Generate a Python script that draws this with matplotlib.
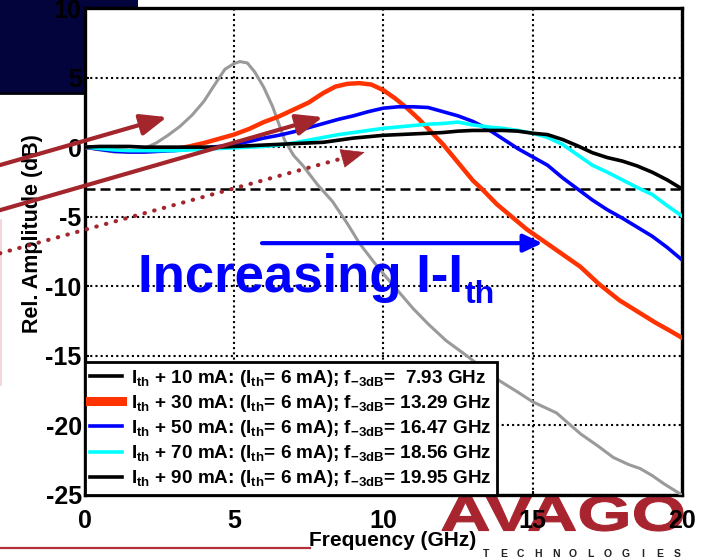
import numpy as np
import matplotlib
matplotlib.use('Agg')
import matplotlib.pyplot as plt
from matplotlib.lines import Line2D
from matplotlib.patches import Rectangle, PathPatch, ArrowStyle
from matplotlib.textpath import TextPath
from matplotlib.font_manager import FontProperties
from matplotlib.transforms import Affine2D

plt.rcParams['font.family'] = ['Liberation Sans', 'DejaVu Sans']
plt.rcParams['font.weight'] = 'bold'
plt.rcParams['mathtext.default'] = 'regular'
plt.rcParams['axes.unicode_minus'] = False

# ---------------- data ----------------
freq_10mA = [0, 0.5, 1.0, 1.5, 2.0, 2.4, 2.8, 3.2, 3.6, 4.0, 4.3, 4.7, 5.0, 5.2, 5.45,
             5.7, 6.0, 6.3, 6.7, 7.0, 7.3, 7.8, 8.3, 8.8, 9.2, 9.7, 10.2, 10.6, 11.0,
             11.5, 12.1, 12.8, 13.4, 13.9, 14.5, 15.0, 15.8, 16.6, 17.2, 17.7, 18.2,
             18.6, 19.0, 19.4, 20.0]
amp_10mA = [0, -0.2, -0.35, -0.35, -0.1, 0.3, 0.86, 1.5, 2.3, 3.3, 4.3, 5.6, 6.0, 6.15,
            6.05, 5.4, 4.3, 2.9, 0.5, -0.6, -1.3, -2.7, -3.9, -5.5, -6.9, -8.3, -9.6,
            -10.6, -11.6, -12.7, -13.9, -15.0, -16.0, -16.8, -17.6, -18.3, -19.1, -20.6,
            -21.5, -22.3, -22.8, -23.1, -23.6, -24.2, -25.0]

freq_30mA = [0, 0.5, 1.0, 1.5, 2.0, 2.5, 3.0, 3.5, 4.0, 4.5, 5.0, 5.5, 6.0, 6.5, 7.0,
             7.5, 8.0, 8.4, 8.8, 9.2, 9.6, 10.0, 10.4, 10.8, 11.2, 11.6, 12.0, 12.5,
             13.0, 13.3, 13.8, 14.3, 14.8, 15.2, 15.8, 16.6, 17.2, 17.9, 18.5, 19.1,
             19.6, 20.0]
amp_30mA = [0, -0.1, -0.2, -0.3, -0.3, -0.25, -0.15, 0.05, 0.3, 0.6, 0.9, 1.3, 1.8, 2.2,
            2.7, 3.2, 3.9, 4.35, 4.55, 4.6, 4.5, 4.1, 3.5, 2.8, 2.0, 1.1, 0.2, -1.1, -2.4,
            -3.0, -4.1, -5.0, -5.9, -6.5, -7.4, -8.6, -9.8, -11.0, -11.8, -12.6, -13.2,
            -13.7]

freq_grid = [0, 0.5, 1, 1.5, 2, 2.5, 3, 3.5, 4, 4.5, 5, 5.5, 6, 6.5, 7, 7.5, 8, 8.5, 9,
             9.5, 10, 10.5, 11, 11.5, 12, 12.5, 13, 13.5, 14, 14.5, 15, 15.5, 16, 16.5,
             17, 17.5, 18, 18.5, 19, 19.5, 20]
amp_50mA = [0, -0.15, -0.3, -0.35, -0.35, -0.3, -0.25, -0.15, -0.05, 0.05, 0.2, 0.4,
            0.65, 0.85, 1.1, 1.4, 1.7, 2.0, 2.25, 2.55, 2.8, 2.9, 2.9, 2.85, 2.55, 2.25,
            1.85, 1.3, 0.6, -0.1, -0.7, -1.3, -2.2, -3.0, -3.8, -4.5, -5.1, -5.75, -6.4,
            -7.2, -8.1]
amp_70mA = [0, -0.1, -0.2, -0.25, -0.25, -0.25, -0.25, -0.2, -0.15, -0.1, -0.05, 0.0,
            0.05, 0.15, 0.3, 0.5, 0.7, 0.9, 1.05, 1.2, 1.35, 1.45, 1.55, 1.65, 1.7, 1.8,
            1.6, 1.45, 1.35, 1.2, 1.0, 0.7, 0.2, -0.55, -1.3, -1.8, -2.35, -2.9, -3.4,
            -4.2, -4.95]
amp_90mA = [0, 0.05, 0.05, 0.05, 0.0, 0.0, 0.0, 0.0, 0.0, 0.0, 0.05, 0.1, 0.15, 0.2,
            0.25, 0.3, 0.35, 0.5, 0.65, 0.75, 0.85, 0.9, 0.95, 1.0, 1.05, 1.15, 1.2, 1.2,
            1.2, 1.15, 1.0, 0.9, 0.55, 0.1, -0.4, -0.75, -1.0, -1.35, -1.8, -2.35, -3.0]

bias_offsets = [10, 30, 50, 70, 90]
f3db_values = ['7.93', '13.29', '16.47', '18.56', '19.95']
curve_colors = ['#9a9a9a', '#ff3300', '#0000ff', '#00ffff', '#000000']
legend_colors = ['#000000', '#ff3300', '#0000ff', '#00ffff', '#000000']
curve_widths = [2.2, 3.2, 2.6, 2.6, 2.6]
legend_widths = [2.6, 6.5, 2.6, 2.6, 2.6]

x_ticks = [0, 5, 10, 15, 20]
y_ticks = [-25, -20, -15, -10, -5, 0, 5, 10]
ref_level = -3

# ---------------- figure ----------------
W, H = 704, 560
fig = plt.figure(figsize=(W / 100, H / 100), dpi=100)
fig.patch.set_facecolor('white')

def fx(px):
    return px / W

def fy(py):
    return 1 - py / H

# navy header block (behind axes)
fig.add_artist(Rectangle((0, fy(93)), fx(138), 93 / H, transform=fig.transFigure,
                         facecolor='#04043c', edgecolor='none', zorder=-10))
fig.add_artist(Line2D([0, fx(84)], [fy(93), fy(93)], transform=fig.transFigure,
                      color='#000010', lw=2, zorder=-9))
# faint pink slide edge and red rule
fig.add_artist(Line2D([fx(1), fx(1)], [fy(220), fy(385)], transform=fig.transFigure,
                      color='#efcfd2', lw=1.2, zorder=-9))
fig.add_artist(Line2D([0, fx(310)], [fy(548), fy(548)], transform=fig.transFigure,
                      color='#b5303d', lw=1.6, zorder=-9))

ax = fig.add_axes([fx(84.5), 65 / H, 597.5 / W, 487 / H])
ax.set_xlim(0, 20)
ax.set_ylim(-25, 10)

series_x = [freq_10mA, freq_30mA, freq_grid, freq_grid, freq_grid]
series_y = [amp_10mA, amp_30mA, amp_50mA, amp_70mA, amp_90mA]
for xs, ys, c, w in zip(series_x, series_y, curve_colors, curve_widths):
    ax.plot(xs, ys, color=c, lw=w, solid_joinstyle='round', zorder=3)

ax.axhline(ref_level, color='black', lw=1.8, linestyle=(0, (4, 2)), zorder=2)

ax.set_xticks(x_ticks)
ax.set_yticks(y_ticks)
ax.set_xticklabels([str(t) for t in x_ticks])
ax.set_yticklabels([str(t) for t in y_ticks])
ax.grid(True, color='black', linestyle=(0, (1, 1.5)), linewidth=1.5, zorder=1)
ax.tick_params(axis='both', direction='in', length=3, width=1.5, labelsize=18)
ax.tick_params(axis='x', pad=10)
ax.tick_params(axis='y', pad=2)
for s in ax.spines.values():
    s.set_linewidth(2.4)

ax.set_xlabel('Frequency (GHz)', fontsize=15, fontweight='bold', labelpad=0)
ax.set_ylabel('Rel. Amplitude (dB)', fontsize=15.5, fontweight='bold', labelpad=0)
ax.xaxis.set_label_coords((393 - 84.5) / 597.5, -(531 - 495) / 487)
ax.yaxis.set_label_coords((43 - 84.5) / 597.5, (495 - 234) / 487)

# legend
handles = [Line2D([], [], color=c, lw=w) for c, w in zip(legend_colors, legend_widths)]
labels = [f'I$_{{th}}$ + {b} mA: (I$_{{th}}$= 6 mA); f$_{{-3dB}}$= {"" if len(v) > 4 else " "}{v} GHz'
          for b, v in zip(bias_offsets, f3db_values)]
leg = ax.legend(handles, labels, loc='lower left', bbox_to_anchor=(0, 0),
                borderaxespad=0, fancybox=False, framealpha=1, edgecolor='black',
                prop={'family': 'Liberation Sans', 'weight': 'bold', 'size': 13.6},
                handlelength=1.7, handletextpad=0.45, labelspacing=0.22, borderpad=0.3)
leg.get_frame().set_linewidth(2.0)
leg.set_zorder(6)

# annotation arrows (brown)
brown = '#a3262d'
arrow_starts = [(-2.83, -1.29), (-2.83, -4.53), (-2.83, -7.63)]
arrow_tips = [(2.76, 2.16), (7.98, 2.16), (9.38, -0.36)]
arrow_dotted = [False, False, True]
head = ArrowStyle('-|>', head_length=16, head_width=6.5)
for (x0, y0), (x1, y1), dotted in zip(arrow_starts, arrow_tips, arrow_dotted):
    if dotted:
        t = 0.94
        ax.plot([x0, x0 + t * (x1 - x0)], [y0, y0 + t * (y1 - y0)], color=brown, lw=3,
                linestyle=(0, (0.1, 2.3)), solid_capstyle='round', dash_capstyle='round',
                clip_on=False, zorder=5)
        ax.annotate('', xy=(x1, y1), xytext=(x0 + t * (x1 - x0), y0 + t * (y1 - y0)),
                    annotation_clip=False,
                    arrowprops=dict(arrowstyle=head, mutation_scale=1, color=brown, lw=0.5,
                                    shrinkA=0, shrinkB=0), zorder=5)
    else:
        ax.annotate('', xy=(x1, y1), xytext=(x0, y0), annotation_clip=False,
                    arrowprops=dict(arrowstyle=head, mutation_scale=1, color=brown, lw=3,
                                    shrinkA=0, shrinkB=0), zorder=5)

# blue arrow + text
ax.annotate('', xy=(15.33, -6.9), xytext=(5.94, -6.9),
            arrowprops=dict(arrowstyle=ArrowStyle('-|>', head_length=11.5, head_width=5.4),
                            mutation_scale=1, color='#0000ff', lw=3, shrinkA=0, shrinkB=0),
            zorder=5)
main_txt = ax.text(1.79, -10.43, 'Increasing I-I', color='#0000ff', fontsize=38,
                   fontweight='bold', ha='left', va='baseline', zorder=5)
ax.annotate('th', xy=(1, 0), xycoords=main_txt, color='#0000ff', fontsize=23,
            fontweight='bold', ha='left', va='baseline', xytext=(1, 0),
            textcoords='offset points', zorder=5)

# AVAGO logo (behind axes)
fp = FontProperties(family='Liberation Sans', weight='bold')
tp = TextPath((0, 0), 'AVAGO', size=10, prop=fp)
ext = tp.get_extents()
X0, X1, Y0, Y1 = fx(442), fx(683), fy(531), fy(496)
tr = (Affine2D().translate(-ext.x0, -ext.y0)
      .scale((X1 - X0) / ext.width, (Y1 - Y0) / ext.height)
      .translate(X0, Y0) + fig.transFigure)
fig.add_artist(PathPatch(tp, transform=tr, facecolor='#a8242e', edgecolor='#a8242e',
                         lw=0.8, zorder=-8))
for i, ch in enumerate('TECHNOLOGIES'):
    fig.text(fx(486 + i * 17.4), fy(549), ch, fontsize=7.5, fontweight='bold',
             color='#222222', ha='center', va='top', zorder=-7)

fig.savefig('out.png', dpi=100)
